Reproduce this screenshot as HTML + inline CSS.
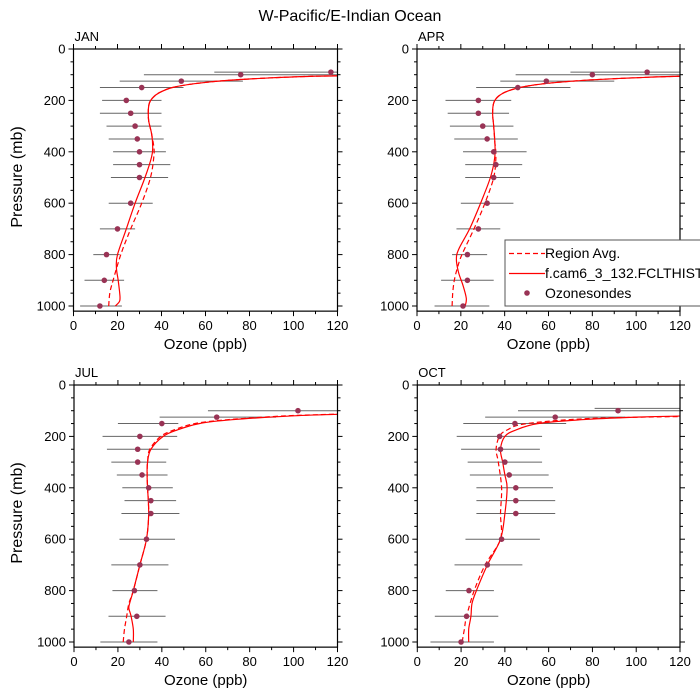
<!DOCTYPE html>
<html><head><meta charset="utf-8"><style>
html,body{margin:0;padding:0;background:#fff;}
svg{display:block;font-family:"Liberation Sans",sans-serif;}
</style></head><body>
<svg id="s" width="700" height="700" viewBox="0 0 700 700" xmlns="http://www.w3.org/2000/svg">
<rect width="700" height="700" fill="#fff"/>
<text x="350" y="21" font-size="16" text-anchor="middle">W-Pacific/E-Indian Ocean</text>
</svg>
<script>
const NS="http://www.w3.org/2000/svg";
const svg=document.getElementById('s');
function el(t,a,txt){const e=document.createElementNS(NS,t);for(const k in a)e.setAttribute(k,a[k]);if(txt!==undefined)e.textContent=txt;svg.appendChild(e);return e;}
const panels=[
{name:"JAN",x0:73.5,x1:337.5,y0:49,
 s:[[90,117,64,125],[100,76,32,125],[125,49,21,77],[150,31,12,50],[200,24,13,40],[250,26,12,40],[300,28,15,40],[350,29,16,41],[400,30,18,42],[450,30,18,44],[500,30,17,43],[600,26,16,36],[700,20,12,28],[800,15,9,21],[900,14,5,23],[1000,12,3,22]],
 m:[[1000,19],[980,21],[950,21],[900,20.3],[850,19.5],[800,20],[700,24],[600,28],[500,32.5],[420,35.5],[380,36],[330,35.5],[280,34.2],[240,34],[210,34.5],[190,36],[170,39],[150,45],[135,55],[122,70],[112,90],[106,110],[104,125]],
 d:[[1000,16],[950,16.5],[900,18],[800,21.5],[700,26],[600,31],[500,35],[420,36.5],[380,36.5],[330,35.5],[280,34.2],[240,34],[210,34.5],[190,36],[170,39],[150,45],[135,55],[122,70],[112,90],[106,110],[104,125]]},
{name:"APR",x0:417,x1:680,y0:49,
 s:[[90,105,70,125],[100,80,45,125],[125,59,38,90],[150,46,27,70],[200,28,13,43],[250,28,14,42],[300,30,15,44],[350,32,17,46],[400,35,21,50],[450,36,22,48],[500,35,22,47],[600,32,20,44],[700,28,18,38],[800,23,16,32],[900,23,11,35],[1000,21,8,33]],
 m:[[1000,22],[970,22.5],[920,21],[870,19],[820,18],[780,19],[700,24],[600,29],[500,33.5],[420,35.5],[360,35.5],[300,35],[250,34.5],[210,35],[185,37],[165,41],[148,48],[133,60],[120,80],[110,105],[105,125]],
 d:[[1000,16],[950,16.3],[900,17],[850,18.5],[800,20.5],[700,26],[600,31],[500,35],[420,36],[360,35.5],[300,35],[250,34.5],[210,35],[185,37],[165,41],[148,48],[133,60],[120,80],[110,105],[105,125]]},
{name:"JUL",x0:74,x1:337.5,y0:385,
 s:[[100,102,61,125],[125,65,39,92],[150,40,20,47.5],[200,30,13,47],[250,29,15,43],[300,29,17,42],[350,31,19.5,42.6],[400,34,22,45],[450,35,23,46.5],[500,35,21.6,48],[600,33,20.7,46],[700,30,17,43],[800,27.5,17.5,38],[900,28.6,15.7,41.7],[1000,25,12,38]],
 m:[[1000,27],[950,27],[900,26],[870,25],[850,25.3],[800,27],[700,30],[600,33],[500,34],[400,33.5],[350,33.3],[300,33.5],[250,35],[200,40.6],[175,47],[150,57],[135,72],[120,100],[113,125]],
 d:[[1000,22.4],[950,23],[900,24],[850,25],[800,27],[700,30],[600,33],[500,34],[400,33.5],[350,33.3],[300,33.5],[250,34.5],[200,39.5],[175,45.5],[150,55],[135,70],[120,97],[112,125]]},
{name:"OCT",x0:417.3,x1:680,y0:385,
 s:[[91,null,81,125],[100,91.7,46,125],[125,63,31,95],[150,44.6,21,68],[200,37.6,18,57],[250,38,20,56],[300,40,23,57],[350,42,24,60],[400,45,27,62],[450,45,27,63],[500,45,27,63],[600,38.5,22,56],[700,32,17,48],[800,23.6,13,35],[900,22.5,8,37],[1000,20,6,35]],
 m:[[1000,23.5],[950,23.5],[900,24.5],[850,25],[800,27],[700,32],[600,38],[500,40],[400,41],[350,40],[300,39],[250,38],[200,40],[175,45],[150,55],[135,75],[125,100],[120,125]],
 d:[[1000,20.5],[950,21.5],[900,22.5],[800,26],[700,31],[600,38],[500,38],[400,38.5],[300,37],[250,36],[200,37.5],[175,41],[150,50],[130,80],[122,125]]}
];
function spline(pts){
 let d="M"+pts[0][0].toFixed(1)+","+pts[0][1].toFixed(1);
 for(let i=0;i<pts.length-1;i++){
  const p0=pts[Math.max(0,i-1)],p1=pts[i],p2=pts[i+1],p3=pts[Math.min(pts.length-1,i+2)];
  const c1=[p1[0]+(p2[0]-p0[0])/6,p1[1]+(p2[1]-p0[1])/6];
  const c2=[p2[0]-(p3[0]-p1[0])/6,p2[1]-(p3[1]-p1[1])/6];
  d+=" C"+c1.map(v=>v.toFixed(1)).join(",")+" "+c2.map(v=>v.toFixed(1)).join(",")+" "+p2[0].toFixed(1)+","+p2[1].toFixed(1);
 }
 return d;
}
panels.forEach((P,idx)=>{
 const W=P.x1-P.x0, H=257, yb=P.y0+H*1.02;
 const X=v=>P.x0+v/120*W, Y=p=>P.y0+p/1000*H;
 const cid="c"+idx;
 const cp=el('clipPath',{id:cid}); const r=document.createElementNS(NS,'rect');
 r.setAttribute('x',P.x0);r.setAttribute('y',P.y0);r.setAttribute('width',W);r.setAttribute('height',yb-P.y0);cp.appendChild(r);
 const g=el('g',{'clip-path':'url(#'+cid+')'});
 function add(t,a){const e=document.createElementNS(NS,t);for(const k in a)e.setAttribute(k,a[k]);g.appendChild(e);return e;}
 P.s.forEach(s=>add('line',{x1:X(s[2]),x2:X(s[3]),y1:Y(s[0]),y2:Y(s[0]),stroke:'#666','stroke-width':1}));
 add('path',{d:spline(P.d.map(q=>[X(q[1]),Y(q[0])])),fill:'none',stroke:'#f00','stroke-width':1.2,'stroke-dasharray':'5,3'});
 add('path',{d:spline(P.m.map(q=>[X(q[1]),Y(q[0])])),fill:'none',stroke:'#f00','stroke-width':1.2});
 P.s.forEach(s=>{if(s[1]!==null)add('circle',{cx:X(s[1]),cy:Y(s[0]),r:2.8,fill:'#993355'});});
 el('rect',{x:P.x0,y:P.y0,width:W,height:yb-P.y0,fill:'none',stroke:'#000','stroke-width':1.2});
 for(let p=0;p<=1000;p+=50){const y=Y(p),maj=p%200==0,L=maj?5:3;
  el('line',{x1:P.x0-L,x2:P.x0,y1:y,y2:y,stroke:'#000'});el('line',{x1:P.x1,x2:P.x1+L,y1:y,y2:y,stroke:'#000'});
  if(maj)el('text',{x:P.x0-8,y:y+4.5,'font-size':13,'text-anchor':'end'},String(p));}
 for(let v=0;v<=120;v+=10){const x=X(v),maj=v%20==0,L=maj?5:3;
  el('line',{x1:x,x2:x,y1:yb,y2:yb+L,stroke:'#000'});el('line',{x1:x,x2:x,y1:P.y0-L,y2:P.y0,stroke:'#000'});
  if(maj)el('text',{x:x,y:yb+19,'font-size':13,'text-anchor':'middle'},String(v));}
 el('text',{x:P.x0+1,y:P.y0-8,'font-size':13},P.name);
 el('text',{x:(P.x0+P.x1)/2,y:yb+38,'font-size':15,'text-anchor':'middle'},'Ozone (ppb)');
 if(idx%2==0)el('text',{x:0,y:0,'font-size':16,'text-anchor':'middle',transform:'translate(22,'+(P.y0+128)+') rotate(-90)'},'Pressure (mb)');
});
el('rect',{x:505,y:240,width:205,height:66,fill:'#fff',stroke:'#555','stroke-width':1});
el('line',{x1:509,x2:545,y1:253.5,y2:253.5,stroke:'#f00','stroke-width':1.2,'stroke-dasharray':'5,3'});
el('line',{x1:509,x2:545,y1:273.5,y2:273.5,stroke:'#f00','stroke-width':1.2});
el('circle',{cx:527,cy:293,r:2.8,fill:'#993355'});
el('text',{x:545,y:258,'font-size':14},'Region Avg.');
el('text',{x:545,y:278,'font-size':14},'f.cam6_3_132.FCLTHIST_');
el('text',{x:545,y:298,'font-size':14},'Ozonesondes');
</script>
</body></html>
